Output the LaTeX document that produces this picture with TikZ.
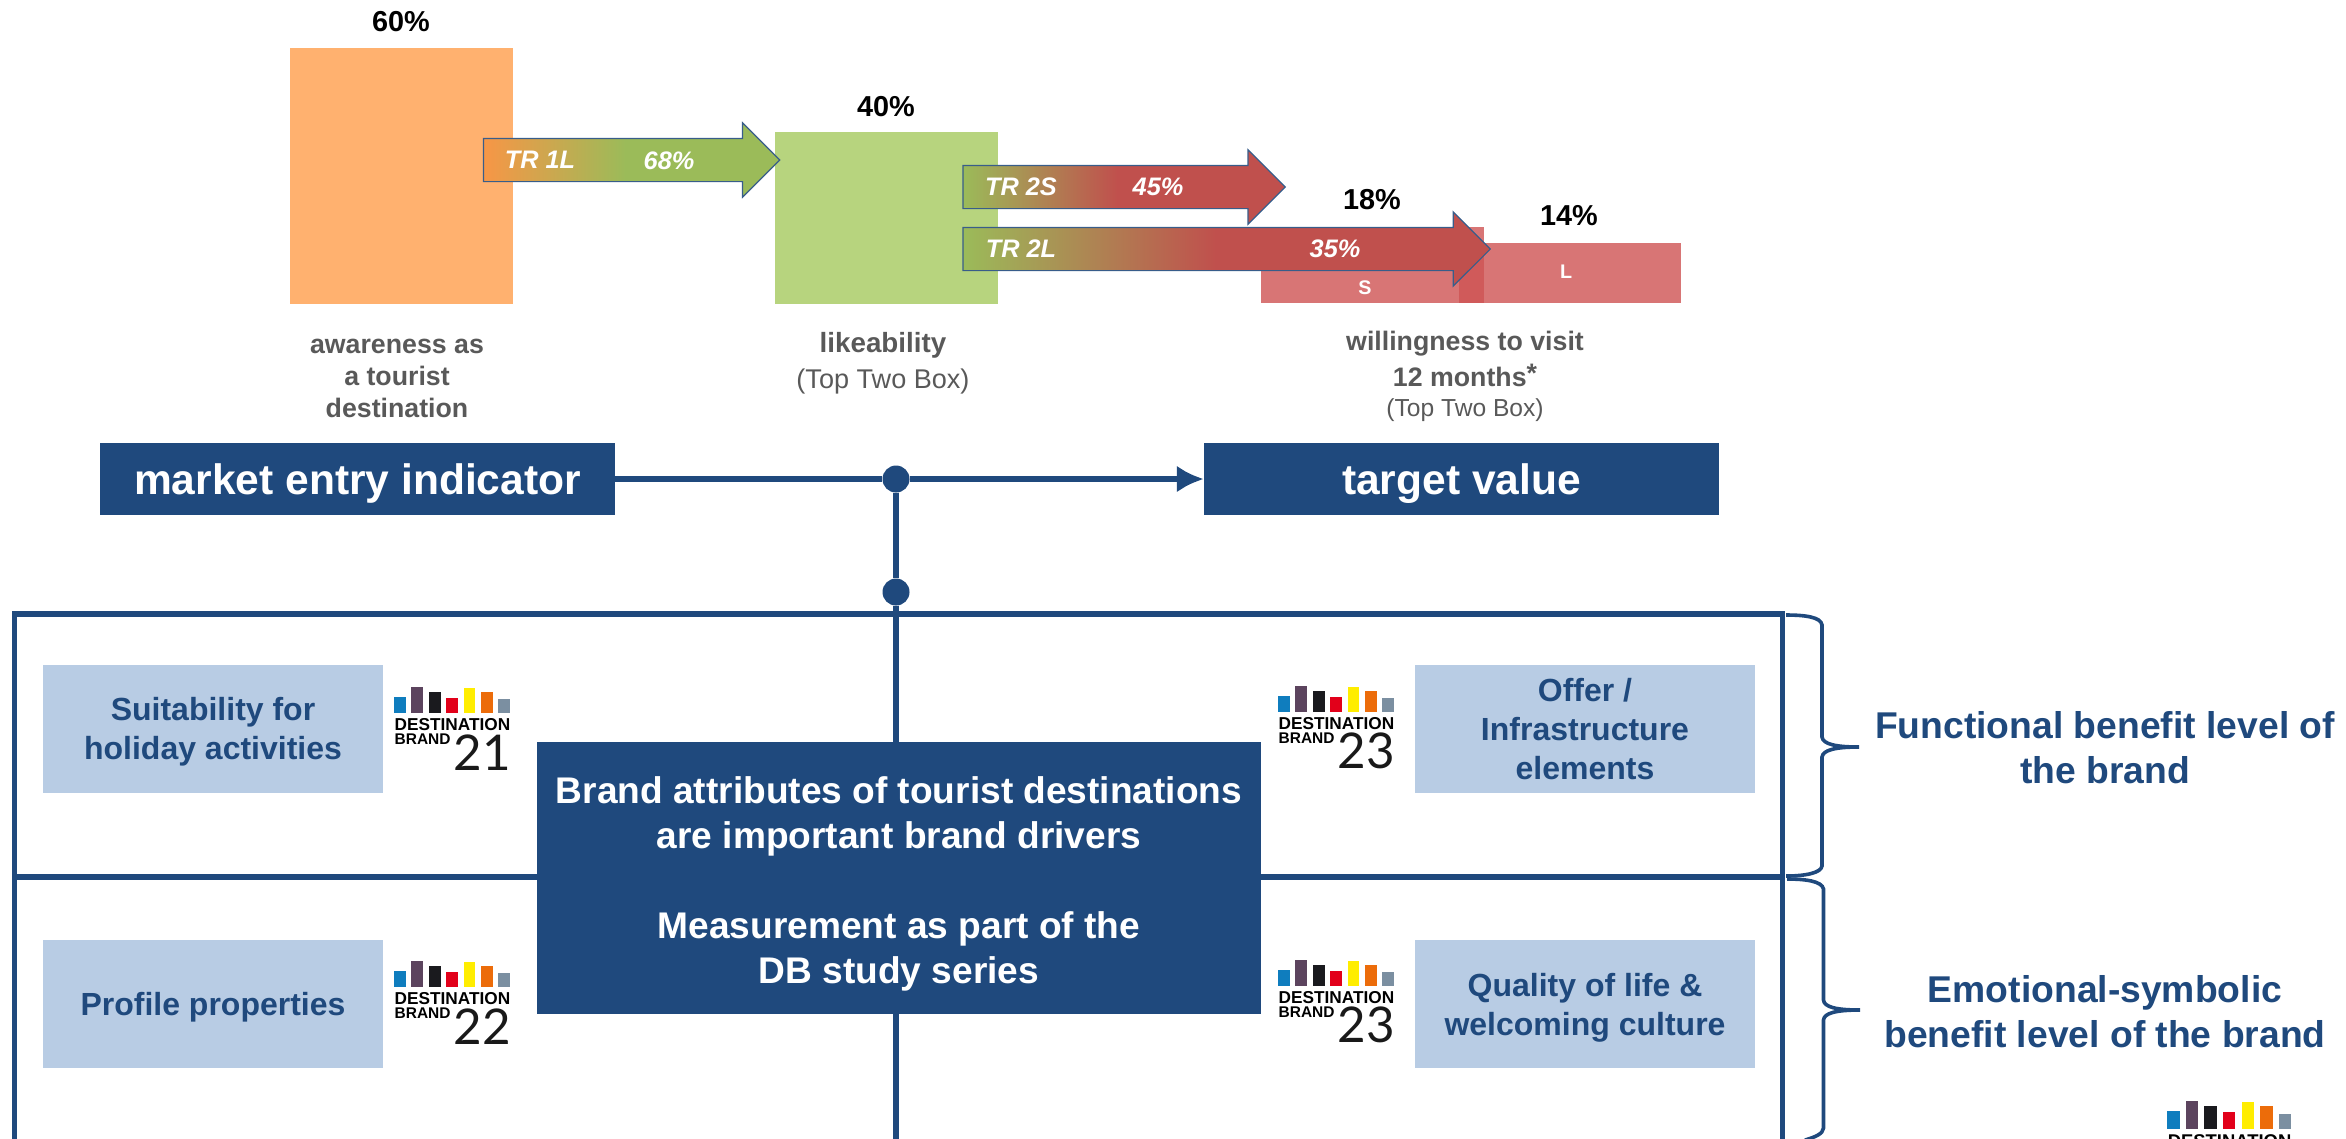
\documentclass[tikz,border=0pt]{standalone}
\usepackage{fontspec}
\setmainfont{Liberation Sans}
\newfontfamily\lognumfont{Lato}
\usetikzlibrary{shapes.arrows,arrows.meta}
\definecolor{navy}{HTML}{1F497D}
\definecolor{paleblue}{HTML}{B8CCE4}
\definecolor{greytext}{HTML}{595959}
\definecolor{barorange}{HTML}{FFB16F}
\definecolor{bargreen}{HTML}{B7D47E}
\definecolor{barred}{HTML}{CE5353}
\definecolor{arroworange}{HTML}{F79646}
\definecolor{arrowgreen}{HTML}{9BBB59}
\definecolor{arrowred}{HTML}{C0504D}
\definecolor{arrowline}{HTML}{385D8A}
\pgfdeclarehorizontalshading{tronefill}{100bp}{color(0bp)=(arroworange); color(25bp)=(arroworange); color(49bp)=(arrowgreen); color(100bp)=(arrowgreen)}
\pgfdeclarehorizontalshading{trtwofill}{100bp}{color(0bp)=(arrowgreen); color(25bp)=(arrowgreen); color(49bp)=(arrowred); color(100bp)=(arrowred)}
\newcommand{\fsz}[2]{\fontsize{#1}{#2}\selectfont}
\tikzset{
  logofill/.code={\definecolor{logocol}{HTML}{#1}\pgfkeysalso{fill=logocol}},
  pics/brandbars/.style={code={
    \foreach \barx/\barh/\barcol in {0/16/0F7DBE,17.4/26/5C445E,34.8/21/1A1A1E,52.2/15/E2001A,69.6/25/FFED00,87/21/EC6C0A,104.4/14/7B8FA1}
      \fill[logofill/.expanded=\barcol] (\barx,0) rectangle +(11.7,-\barh);
    \node[logotext,anchor=north west] (dest) at (0,5) {DESTINATION};
  }},
  pics/brandlogo/.style={code={
    \pic {brandbars};
    \node[logotext,anchor=north west,font=\bfseries\fsz{4.4}{4.4}] (word) at (0,20) {BRAND};
    \node[lognum,anchor=south east] (year) at (117.5,58) {#1};
  }}
}
\begin{document}
\begin{tikzpicture}[x=0.01cm,y=-0.01cm,
  bar/.style={rectangle,inner sep=0pt,outer sep=0pt},
  redbar/.style={bar,fill=barred,fill opacity=.8},
  barletter/.style={text=white,font=\bfseries\fsz{5.6}{7}},
  trarrow/.style={single arrow,shade,draw=arrowline,line width=.012cm,inner sep=0pt,outer sep=0pt,anchor=tail,text height=.42cm,text depth=0pt,single arrow head extend=.155cm,single arrow tip angle=90},
  trtext/.style={text=white,font=\bfseries\itshape\fsz{7.2}{9}},
  pct/.style={font=\bfseries\fsz{8.2}{10}},
  caption/.style={align=center,text=greytext,font=\bfseries\fsz{7.6}{9.1}},
  headbox/.style={bar,fill=navy,text=white,text depth=0pt,minimum width=5.15cm,minimum height=.72cm,font=\bfseries\fsz{12.1}{14}},
  attrbox/.style={bar,fill=paleblue,text=navy,align=center,minimum width=3.4cm,minimum height=1.28cm,font=\bfseries\fsz{9.1}{11.1}},
  levellabel/.style={align=center,text=navy,font=\bfseries\fsz{10.6}{12.8}},
  frameline/.style={draw=navy,line width=.055cm},
  dot/.style={circle,fill=navy,minimum size=.27cm,inner sep=0pt},
  logotext/.style={inner sep=0pt,font=\bfseries\fsz{4.9}{4.9}},
  lognum/.style={inner sep=0pt,text=black!90,font=\lognumfont\fsz{14}{14}}]
\clip (0,0) rectangle (2346,1138);

\node[bar,fill=barorange,minimum width=2.23cm,minimum height=2.56cm] (awareness) at (401.5,176) {};
\node[bar,fill=bargreen,minimum width=2.23cm,minimum height=1.72cm] (liking) at (886.5,218) {};
\node[redbar,minimum width=2.23cm,minimum height=.76cm] (visits) at (1372.5,265) {};
\node[redbar,minimum width=2.22cm,minimum height=.60cm] (visitl) at (1570,273) {};
\node[barletter] (slabel) at (1365,288) {S};
\node[barletter] (llabel) at (1566,272) {L};

\node[pct] (pcta) at (401,22) {60\%};
\node[pct] (pctb) at (886,107) {40\%};
\node[pct] (pctc) at (1372,200) {18\%};
\node[pct] (pctd) at (1569,216) {14\%};

\node[trarrow,shading=tronefill,minimum height=2.96cm] (trone) at (483.5,160) {};
\node[trarrow,shading=trtwofill,minimum height=3.22cm] (trtwos) at (963,187) {};
\node[trarrow,shading=trtwofill,minimum height=5.27cm] (trtwol) at (963,249) {};
\node[trtext] (troneb) at (540,160) {TR 1L};
\node[trtext] (tronev) at (669,161) {68\%};
\node[trtext] (trtwosb) at (1021,187) {TR 2S};
\node[trtext] (trtwosv) at (1158,187) {45\%};
\node[trtext] (trtwolb) at (1021,249) {TR 2L};
\node[trtext] (trtwolv) at (1335,249) {35\%};

\node[caption] (capa) at (397,378.5) {awareness as\\a tourist\\destination};
\node[caption] (capb) at (883,363) {\fsz{7.9}{9.1}likeability\\[1pt]\normalfont\fsz{7.7}{9.1}(Top Two Box)};
\node[caption] (capc) at (1465,376.5) {willingness to visit\\[1pt]12 months\raisebox{.25ex}{*}\\[-.5pt]\normalfont\fsz{7}{9}(Top Two Box)};

\node[headbox] (market) at (357.5,479) {market entry indicator};
\node[headbox] (target) at (1461.5,479) {target value};
\node[dot] (topdot) at (896,479) {};
\node[dot] (lowdot) at (896,592) {};
\draw[frameline] (market) -- (topdot);
\draw[frameline,-{Latex[length=.27cm,width=.27cm]}] (topdot) -- (target);
\draw[frameline] (topdot) -- (lowdot);

\node[bar,frameline,minimum width=17.67cm,minimum height=2.63cm] (upperframe) at (898.5,745.5) {};
\node[bar,frameline,minimum width=17.67cm,minimum height=3.23cm] (lowerframe) at (898.5,1038.5) {};
\draw[frameline] (lowdot) -- (lowerframe.south -| lowdot);

\node[bar,fill=navy,minimum width=7.24cm,minimum height=2.72cm] (center) at (899,878) {};
\node[align=center,text=white,font=\bfseries\fsz{10.55}{12.8}] (centertext) at (899,884) {Brand attributes of tourist destinations\\are important brand drivers\\[12.8pt]Measurement as part of the\\DB study series};

\node[attrbox] (suit) at (213,729) {\rule{0pt}{8.2pt}Suitability for\\holiday activities};
\node[attrbox,text depth=0pt] (profile) at (213,1004) {Profile properties};
\node[attrbox] (offer) at (1585,729) {Offer /\\Infrastructure\\elements};
\node[attrbox] (quality) at (1585,1004) {\rule{0pt}{9pt}Quality of life \&\\welcoming culture};

\pic (logoa) at (394,713) {brandlogo=21};
\pic (logob) at (394,987) {brandlogo=22};
\pic (logoc) at (1278,712) {brandlogo=23};
\pic (logod) at (1278,986) {brandlogo=23};
\pic[scale=1.07,transform shape] (logoe) at (2167,1128.5) {brandbars};

\draw[navy,line width=.036cm] (1786,615) .. controls (1805,615) and (1821,617) .. (1822,625) -- (1822,737) .. controls (1823,744) and (1835,747) .. (1859,747) .. controls (1835,747) and (1823,750) .. (1822,757) -- (1822,866) .. controls (1821,873) and (1805,876) .. (1786,876);
\draw[navy,line width=.036cm] (1787,879) .. controls (1805,879) and (1822,881) .. (1823.5,889) -- (1823.5,1000) .. controls (1824,1007) and (1836,1010) .. (1860,1010) .. controls (1836,1010) and (1824,1013) .. (1823.5,1020) -- (1823.5,1128) .. controls (1823,1134) and (1815,1137) .. (1805,1140);

\node[levellabel] (funclevel) at (2105,748) {Functional benefit level of\\the brand};
\node[levellabel] (emolevel) at (2105,1012) {Emotional-symbolic\\benefit level of the brand};
\end{tikzpicture}
\end{document}
